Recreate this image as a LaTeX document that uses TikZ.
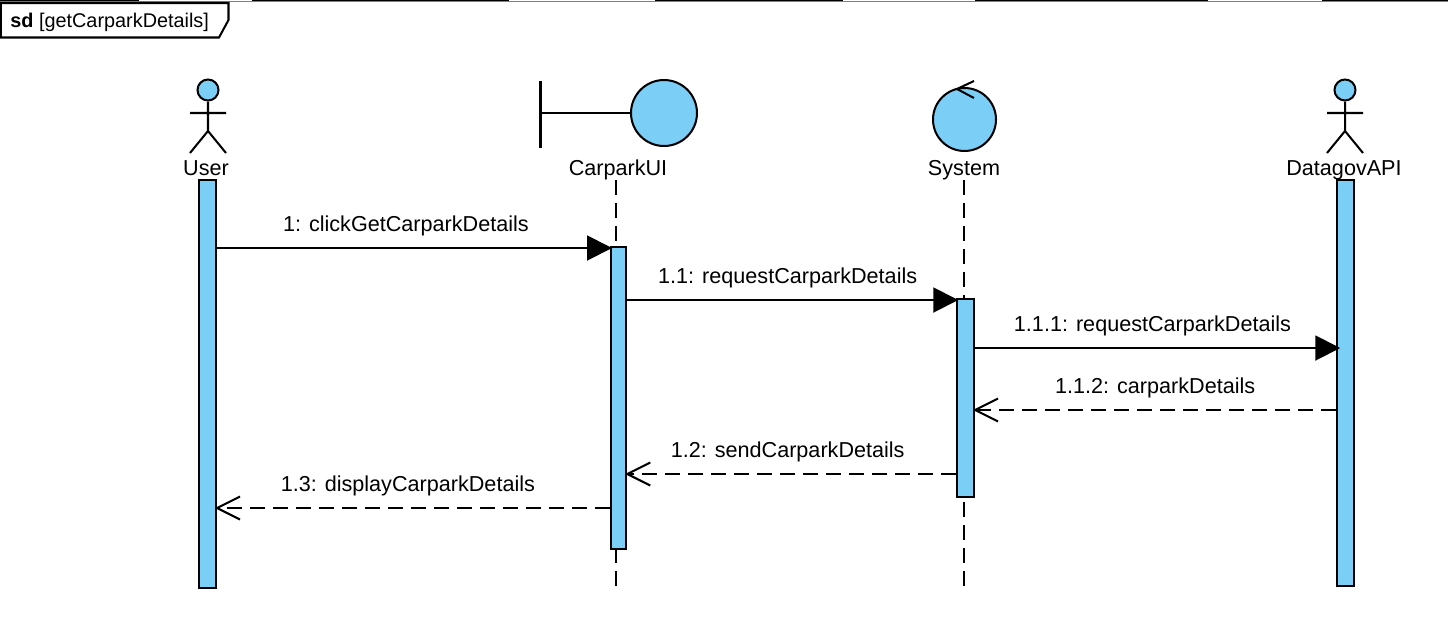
\documentclass[tikz,border=0pt]{standalone}
\usepackage{fontspec}
\setmainfont{Liberation Sans}
\usetikzlibrary{arrows.meta}
\definecolor{lifeblue}{HTML}{7BCFF6}
\tikzset{
	thick line/.style={line width=1.15pt},
	barbox/.style={thick line,draw,fill=lifeblue,rectangle,inner sep=0pt,minimum width=.33cm},
	headdot/.style={thick line,draw,fill=lifeblue,circle,inner sep=0pt},
	lifename/.style={inner sep=0pt,font=\fontsize{12.3}{14}\selectfont},
	lifeline/.style={thick line,dash pattern=on .3cm off .16cm},
	callmsg/.style={thick line,shorten >=-.04cm,-{Triangle[length=.5cm,width=.5cm]}},
	backmsg/.style={thick line,dash pattern=on .3cm off .16cm,shorten >=-.04cm,-{Straight Barb[length=.46cm,width=.46cm,line width=1.15pt]}},
	msgtext/.style={inner sep=0pt,anchor=center,yshift=.445cm,solid,font=\fontsize{12.3}{14}\selectfont}
}
\begin{document}
\begin{tikzpicture}[x=.02cm,y=-.02cm]
\useasboundingbox (0,0) rectangle (1448,633);
% top edge
\draw[line width=.5pt,gray] (0,1.6) -- (1448,1.6);
\draw[line width=.6pt] (0,.4) -- (139,.4) (252,.4) -- (509,.4) (655,.4) -- (843,.4) (975,.4) -- (1208,.4) (1322,.4) -- (1448,.4);

% frame
\draw[thick line] (.8,3) -- (228.5,3) -- (228.5,20) -- (219,37.5) -- (.8,37.5) -- cycle;
\node[lifename,anchor=west,font=\fontsize{11.3}{13}\selectfont] (title) at (10,22) {\textbf{sd} [getCarparkDetails]};

% lifelines
\draw (208,90) node[headdot,minimum size=.42cm](uhead){}   (206,168) node[lifename](uname){User};
\draw (664,113) node[headdot,minimum size=1.32cm](uicircle){}   (618,170) node[lifename](uiname){CarparkUI};
\draw (964.5,119.5) node[headdot,minimum size=1.26cm](shead){}   (964,170) node[lifename](sname){System};
\draw (1345,90) node[headdot,minimum size=.42cm](dhead){}   (1344,170) node[lifename](dname){DatagovAPI};

\draw[lifeline] (616,180) -- (616,588);
\draw[lifeline] (964,180) -- (964,588);

\draw 	(207.5,384) node[barbox,minimum height=8.16cm](ubar){}   (618.5,398) node[barbox,minimum height=6.04cm,minimum width=.3cm](uibar){}
		(965.5,398) node[barbox,minimum height=3.96cm](sbar){}   (1345.5,383) node[barbox,minimum height=8.12cm](dbar){};

% actors
\draw[thick line] (uhead.south) -- (208,131) -- (190,153) (208,131) -- (226,153) (190,113) -- (226,113);
\draw[thick line] (dhead.south) -- (1345,131) -- (1327,153) (1345,131) -- (1363,153) (1327,113) -- (1363,113);
\draw[thick line] (540.5,81) -- (540.5,148) (540.5,113) -- (uicircle.west);
\draw[thick line] (974,81) -- (957,89) -- (974,98);

% messages
\path[callmsg]
	(ubar.east |- 0,248) edge node[msgtext,pos=.481] (m1) {1: clickGetCarparkDetails} (uibar.west |- 0,248)
	(uibar.east |- 0,300) edge node[msgtext,pos=.488] (m2) {1.1: requestCarparkDetails} (sbar.west |- 0,300)
	(sbar.east |- 0,348) edge node[msgtext,pos=.489] (m3) {1.1.1: requestCarparkDetails} ([xshift=.04cm]dbar.west |- 0,348);
\path[backmsg]
	(dbar.west |- 0,410) edge node[msgtext,pos=.501] (m4) {1.1.2: carparkDetails} (sbar.east |- 0,410)
	(sbar.west |- 0,474) edge node[msgtext,pos=.512] (m5) {1.2: sendCarparkDetails} (uibar.east |- 0,474)
	(uibar.west |- 0,508) edge node[msgtext,pos=.514] (m6) {1.3: displayCarparkDetails} (ubar.east |- 0,508);
\end{tikzpicture}
\end{document}
